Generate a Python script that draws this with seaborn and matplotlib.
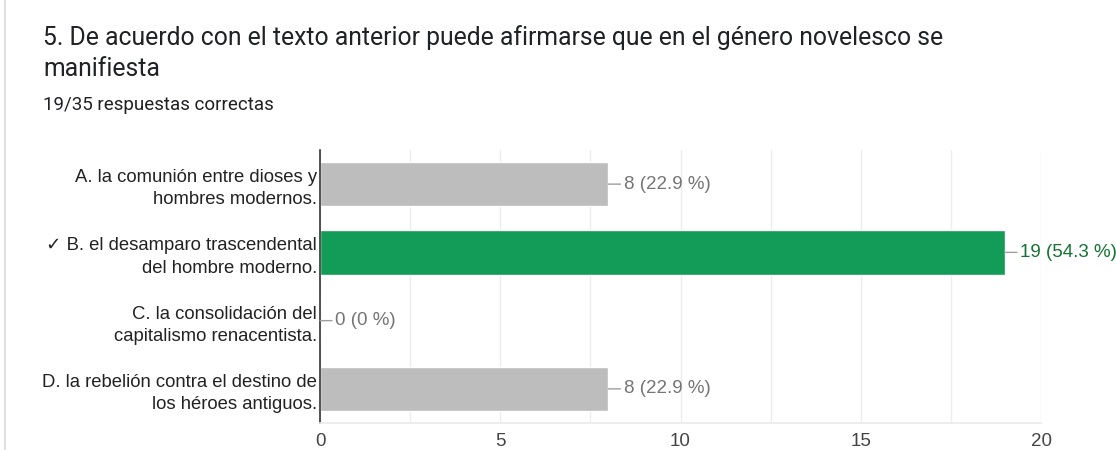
import matplotlib
matplotlib.use("Agg")
import matplotlib.pyplot as plt
import seaborn as sns
import pandas as pd

# Data
options = [
    "A. la comunión entre dioses y\nhombres modernos.",
    "✓ B. el desamparo trascendental\ndel hombre moderno.",
    "C. la consolidación del\ncapitalismo renacentista.",
    "D. la rebelión contra el destino de\nlos héroes antiguos.",
]
counts = [8, 19, 0, 8]
percents = ["22.9", "54.3", "0", "22.9"]
correct = [False, True, False, False]
title = "5. De acuerdo con el texto anterior puede afirmarse que en el género novelesco se\nmanifiesta"
subtitle = "19/35 respuestas correctas"

df = pd.DataFrame({"option": options, "count": counts, "correct": correct})

sns.set_theme(style="white")
plt.rcParams["font.family"] = ["Liberation Sans", "DejaVu Sans"]

grey = "#bdbdbd"
green = "#129c57"

fig = plt.figure(figsize=(11.16, 4.5), dpi=100)
ax = fig.add_axes([320 / 1116, 1 - 423 / 450, (1041 - 320) / 1116, 273 / 450])

sns.barplot(data=df, y="option", x="count", hue="correct",
            palette={False: grey, True: green}, orient="h", saturation=1,
            width=0.65, dodge=False, legend=False, ax=ax)

ax.set_xlim(0, 20)
ax.set_ylim(3.5, -0.5)
ax.set_xticks([0, 5, 10, 15, 20])
ax.set_xticks([2.5, 7.5, 12.5, 17.5], minor=True)
ax.grid(axis="x", which="both", color="#ededed", linewidth=1)
ax.set_axisbelow(True)
ax.set_xlabel("")
ax.set_ylabel("")
ax.tick_params(axis="x", labelsize=13.5, colors="#444444", length=0, pad=7)
ax.tick_params(axis="y", labelsize=13.3, colors="#222222", length=0, pad=2)
for lab in ax.get_yticklabels():
    lab.set_horizontalalignment("right")
    lab.set_linespacing(1.4)
for s in ["top", "right"]:
    ax.spines[s].set_visible(False)
ax.spines["bottom"].set_color("#ebebeb")
ax.spines["left"].set_color("#333333")
ax.spines["left"].set_linewidth(1.2)

# value labels with short leader lines
for i, (c, p, ok) in enumerate(zip(counts, percents, correct)):
    col = "#137333" if ok else "#757575"
    ax.annotate(f"{c} ({p} %)", xy=(c, i), xytext=(11, 0), textcoords="offset points",
                ha="left", va="center", fontsize=13.5, color=col,
                arrowprops=dict(arrowstyle="-", color="#9e9e9e", lw=1,
                                shrinkA=0, shrinkB=0, relpos=(0, 0.5)))

# header text
fig.text(43 / 1116, 1 - 53 / 450, title, fontsize=17.8, color="#202124",
         family=["Roboto", "DejaVu Sans"], va="center", linespacing=1.4)
fig.text(43 / 1116, 1 - 105 / 450, subtitle, fontsize=13.5, color="#202124",
         family=["Roboto", "DejaVu Sans"], va="center")

# left card border
fig.add_artist(plt.Line2D([5 / 1116, 5 / 1116], [0, 1], color="#e0e0e0", lw=1.5,
                          transform=fig.transFigure))

fig.savefig("out.png", dpi=100)
